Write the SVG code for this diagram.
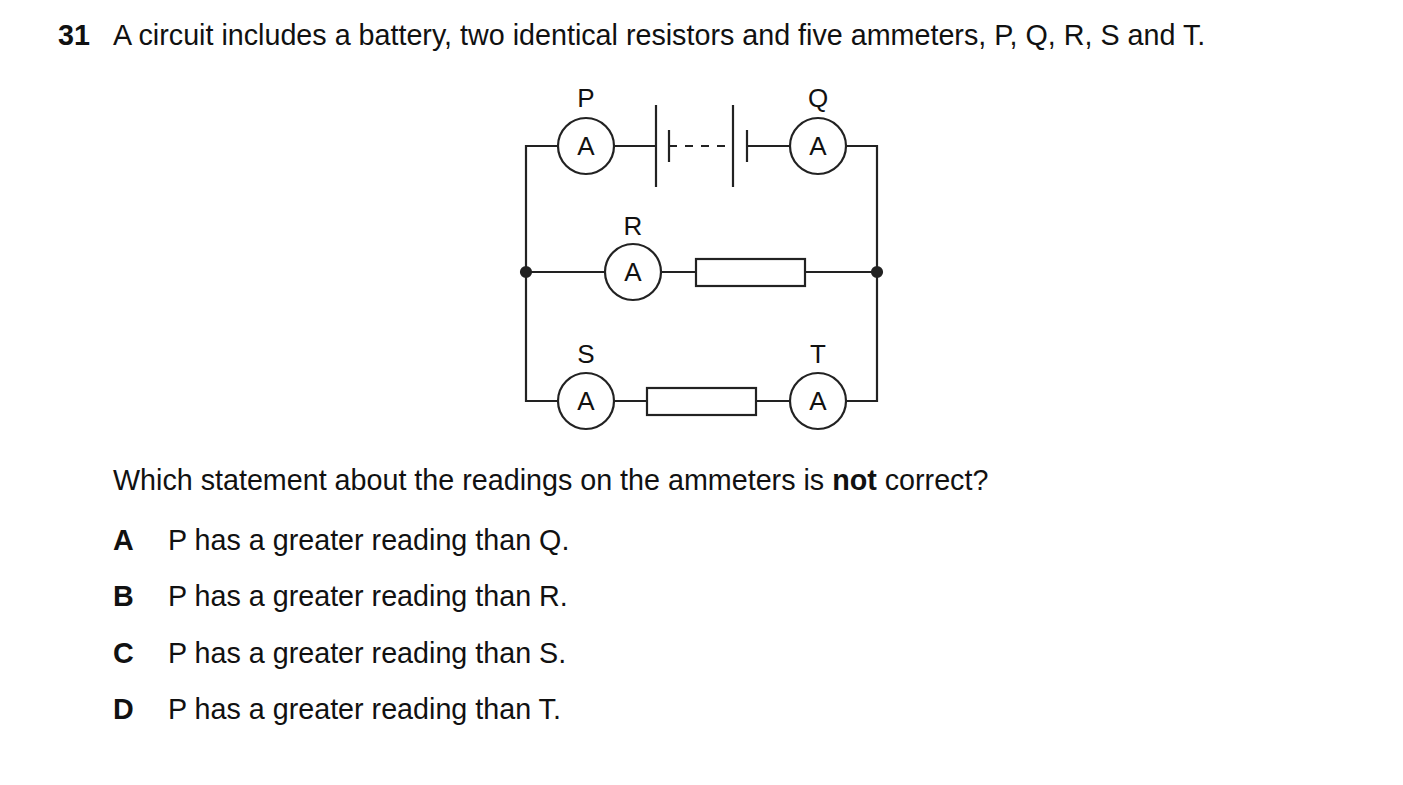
<svg xmlns="http://www.w3.org/2000/svg" width="1403" height="785" viewBox="0 0 1403 785">
<style>
text{font-family:"Liberation Sans",Arial,sans-serif;fill:#111}
.t{font-size:28.7px}
.l{font-size:26px;text-anchor:middle}
.w{stroke:#222;stroke-width:2.2;fill:none}
.m{stroke:#222;stroke-width:2.2;fill:#fff}
</style>
<rect width="1403" height="785" fill="#fff"/>
<text class="t" x="58" y="45" font-weight="bold">31</text>
<text class="t" x="113" y="45">A circuit includes a battery, two identical resistors and five ammeters, P, Q, R, S and T.</text>
<g id="connectors" class="w">
<path d="M558 146H526V401H558M614 146H656M747 146H790M846 146H877V401H846M526 272H605M661 272H696M805 272H877M614 401H647M756 401H790"/>
<path d="M656 105V187M669 130V162M733 105V187M747 130V162"/>
<path d="M669 146H733" stroke-dasharray="8,8"/>
<circle cx="526" cy="272" r="5" fill="#222"/>
<circle cx="877" cy="272" r="5" fill="#222"/>
</g>
<g id="P"><circle class="m" cx="586" cy="146" r="28"/><text class="l" x="586" y="155">A</text><text class="l" x="586" y="107">P</text></g>
<g id="Q"><circle class="m" cx="818" cy="146" r="28"/><text class="l" x="818" y="155">A</text><text class="l" x="818" y="107">Q</text></g>
<g id="R"><circle class="m" cx="633" cy="272" r="28"/><text class="l" x="633" y="281">A</text><text class="l" x="633" y="235">R</text></g>
<g id="S"><circle class="m" cx="586" cy="401" r="28"/><text class="l" x="586" y="410">A</text><text class="l" x="586" y="363">S</text></g>
<g id="T"><circle class="m" cx="818" cy="401" r="28"/><text class="l" x="818" y="410">A</text><text class="l" x="818" y="363">T</text></g>
<g id="R1"><rect class="m" x="696" y="259" width="109" height="27"/></g>
<g id="R2"><rect class="m" x="647" y="388" width="109" height="27"/></g>
<text class="t" x="113" y="490">Which statement about the readings on the ammeters is <tspan font-weight="bold">not</tspan> correct?</text>
<g class="t">
<text x="113" y="550" font-weight="bold">A</text><text x="168" y="550">P has a greater reading than Q.</text>
<text x="113" y="606" font-weight="bold">B</text><text x="168" y="606">P has a greater reading than R.</text>
<text x="113" y="663" font-weight="bold">C</text><text x="168" y="663">P has a greater reading than S.</text>
<text x="113" y="719" font-weight="bold">D</text><text x="168" y="719">P has a greater reading than T.</text>
</g>
</svg>
